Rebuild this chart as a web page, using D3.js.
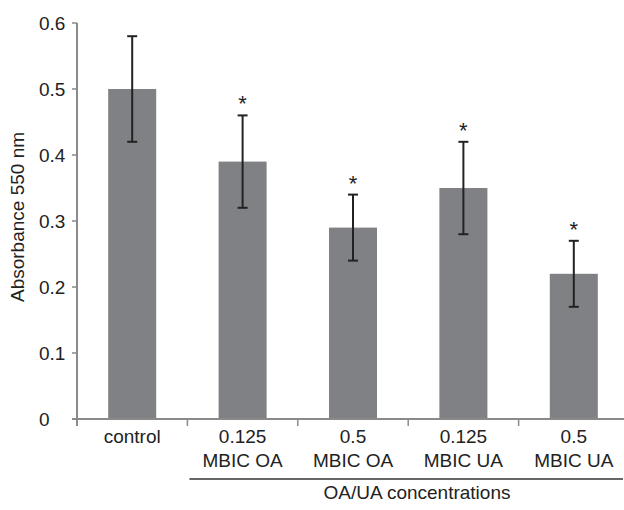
<!DOCTYPE html>
<html><head><meta charset="utf-8">
<script src="https://cdn.jsdelivr.net/npm/d3@7"></script>
<style>body{margin:0;background:#fff}svg{display:block}text{font-family:"Liberation Sans",Arial,sans-serif;fill:#222}</style>
</head><body>
<script>
const categories = [["control"],["0.125","MBIC OA"],["0.5","MBIC OA"],["0.125","MBIC UA"],["0.5","MBIC UA"]];
const means = [0.50, 0.39, 0.29, 0.35, 0.22];
const errHigh = [0.58, 0.46, 0.34, 0.42, 0.27];
const errLow = [0.42, 0.32, 0.24, 0.28, 0.17];
const significant = [false, true, true, true, true];
const yTicks = [0, 0.1, 0.2, 0.3, 0.4, 0.5, 0.6];
const yTitle = "Absorbance 550 nm";
const groupTitle = "OA/UA concentrations";

const W = 624, H = 510, FS = 19;
const svg = d3.select("body").append("svg").attr("width", W).attr("height", H);
const x0 = 77, x1 = 629, yBase = 419, yTop = 23;
const idx = categories.map((d,i)=>i);
const x = d3.scaleBand().domain(idx).range([x0, x1]).paddingInner(0.565).paddingOuter(0.2825);
const y = d3.scaleLinear().domain([0, 0.6]).range([yBase, yTop]);

// bars
svg.selectAll("rect.bar").data(means).join("rect")
  .attr("x", (d,i)=>x(i)).attr("y", d=>y(d))
  .attr("width", x.bandwidth()).attr("height", d=>yBase - y(d))
  .attr("fill", "#808184");

// y axis
svg.append("line").attr("x1", x0).attr("x2", x0).attr("y1", y(0.6)).attr("y2", yBase + 7)
  .attr("stroke", "#8a8a8a").attr("stroke-width", 2);
yTicks.forEach(t => {
  svg.append("line").attr("x1", x0 - 5).attr("x2", x0).attr("y1", y(t)).attr("y2", y(t))
    .attr("stroke", "#8a8a8a").attr("stroke-width", 1.5);
  svg.append("text").attr("x", 39).attr("y", y(t)).attr("dy", "0.35em")
    .attr("font-size", FS).text(t === 0 ? "0" : d3.format(".1f")(t));
});

// x axis
svg.append("line").attr("x1", x0 - 5).attr("x2", W).attr("y1", yBase).attr("y2", yBase)
  .attr("stroke", "#8a8a8a").attr("stroke-width", 2);
const step = x.step();
for (let i = 0; i < categories.length; i++) {
  const bx = x(i) + x.bandwidth()/2 - step/2;
  svg.append("line").attr("x1", bx).attr("x2", bx).attr("y1", yBase).attr("y2", yBase + 7)
    .attr("stroke", "#8a8a8a").attr("stroke-width", 1.5);
}
categories.forEach((lines, i) => {
  const cx = x(i) + x.bandwidth()/2;
  lines.forEach((s, j) => {
    svg.append("text").attr("x", cx).attr("y", 443 + j*23.5).attr("text-anchor", "middle")
      .attr("font-size", FS).text(s);
  });
});

// error bars
svg.selectAll("g.err").data(means).join("g").each(function(d,i){
  const g = d3.select(this), cx = x(i) + x.bandwidth()/2;
  g.append("line").attr("x1", cx).attr("x2", cx).attr("y1", y(errHigh[i])).attr("y2", y(errLow[i]))
    .attr("stroke", "#222").attr("stroke-width", 2);
  [errHigh[i], errLow[i]].forEach(v => g.append("line").attr("x1", cx-5).attr("x2", cx+5)
    .attr("y1", y(v)).attr("y2", y(v)).attr("stroke", "#222").attr("stroke-width", 2));
  if (significant[i]) g.append("text").attr("x", cx).attr("y", y(errHigh[i]) - 4)
    .attr("text-anchor", "middle").attr("font-size", 22).text("*");
});

// group line and title
const gx1 = x(1) + x.bandwidth()/2 - step/2 + 2;
svg.append("line").attr("x1", gx1).attr("x2", 623).attr("y1", 479).attr("y2", 479)
  .attr("stroke", "#666").attr("stroke-width", 2);
svg.append("text").attr("x", 417).attr("y", 499).attr("text-anchor", "middle")
  .attr("font-size", FS).text(groupTitle);

// y title
svg.append("text").attr("transform", "translate(24,217) rotate(-90)").attr("text-anchor", "middle")
  .attr("font-size", FS).text(yTitle);
</script>
</body></html>
